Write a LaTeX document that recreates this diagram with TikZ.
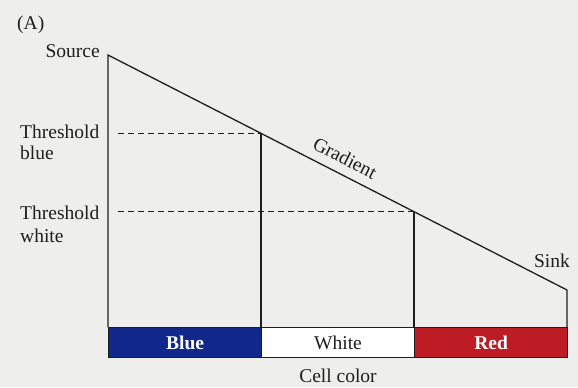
\documentclass[tikz,border=0pt]{standalone}
\usepackage{fontspec}
\setmainfont{Liberation Serif}
\definecolor{bg}{RGB}{238,238,236}
\definecolor{ink}{RGB}{30,30,30}
\definecolor{barblue}{RGB}{16,40,140}
\definecolor{barred}{RGB}{190,28,36}
\begin{document}
\begin{tikzpicture}[x=1bp,y=-1bp,
  lbl/.style={font=\fontsize{19.5bp}{22bp}\selectfont, text=ink, inner sep=0pt},
  edge/.style={draw=ink, line width=1.3bp},
  dashline/.style={draw=ink, line width=1.1bp, dash pattern=on 6bp off 4bp},
  bar/.style={draw=ink, line width=1.1bp}]
\fill[bg] (0,0) rectangle (578,387);
\useasboundingbox (0,0) rectangle (578,387);
% key points
\coordinate (src) at (108,55);
\coordinate (tb) at (261,133.3);
\coordinate (tw) at (414,211.7);
\coordinate (snk) at (567,290);
\coordinate (b0) at (108,327);
\coordinate (b1) at (261,327);
\coordinate (b2) at (414,327);
\coordinate (b3) at (567,327);
\coordinate (tbl) at (118,133.3);
\coordinate (twl) at (118,211.7);
% bars
\node[bar, fill=barblue, minimum width=153bp, minimum height=30bp, anchor=north west, inner sep=0pt,
      font=\fontsize{19.5bp}{22bp}\selectfont\bfseries, text=white] (blue) at (b0) {Blue};
\node[bar, fill=white, minimum width=153bp, minimum height=30bp, anchor=north west, inner sep=0pt,
      font=\fontsize{19.5bp}{22bp}\selectfont, text=ink] (white) at (b1) {White};
\node[bar, fill=barred, minimum width=153bp, minimum height=30bp, anchor=north west, inner sep=0pt,
      font=\fontsize{19.5bp}{22bp}\selectfont\bfseries, text=white] (red) at (b2) {Red};
% lines
\draw[edge] (b0) -- (src) -- (snk) -- (b3);
\draw[edge] (tb) -- (b1);
\draw[edge] (tw) -- (b2);
\draw[dashline] (tbl) -- (tb);
\draw[dashline] (twl) -- (tw);
% labels
\node[lbl, anchor=base west] (lA) at (17,29) {(A)};
\node[lbl, anchor=base east] (lsrc) at (100,57) {Source};
\node[lbl, anchor=base west, align=left] (ltb) at (20,159) {Threshold\\[-1bp]blue};
\node[lbl, anchor=base west, align=left] (ltw) at (20,242) {Threshold\\[1bp]white};
\node[lbl, anchor=base east] (lsink) at (570,267) {Sink};
\node[lbl, anchor=base] (lcc) at (338,382) {Cell color};
\node[lbl, rotate=-27.1, anchor=base] (lgrad) at (342,164) {Gradient};
\end{tikzpicture}
\end{document}
